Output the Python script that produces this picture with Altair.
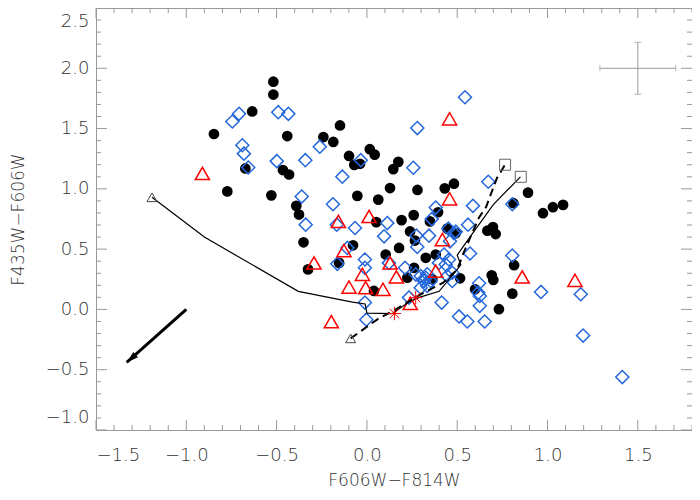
import altair as alt
import pandas as pd
import numpy as np

# ---------------- data ----------------
blk_x = [-0.518, -0.518, -0.635, -0.847, -0.441, -0.149, -0.241, -0.186, -0.099, -0.070,
         -0.038, 0.016, 0.043, 0.174, 0.146, -0.673, -0.465, -0.431, -0.773, -0.529,
         -0.053, 0.128, 0.063, 0.280, -0.391, -0.376, 0.259, 0.192, 0.052, -0.351,
         -0.326, -0.154, -0.077, 0.431, 0.482, 0.892, 0.975, 1.030, 1.086, 0.811,
         0.394, 0.349, 0.239, 0.445, 0.492, 0.667, 0.698, 0.713, 0.266, 0.178,
         0.815, 0.691, 0.700, 0.516, 0.599, 0.805, 0.731, 0.326, 0.381, 0.104,
         0.224, 0.261, 0.362, 0.039]
blk_y = [1.889, 1.782, 1.642, 1.455, 1.438, 1.526, 1.430, 1.389, 1.273, 1.199,
         1.208, 1.329, 1.284, 1.224, 1.164, 1.169, 1.156, 1.119, 0.979, 0.946,
         0.942, 1.007, 0.911, 0.991, 0.859, 0.787, 0.782, 0.741, 0.724, 0.557,
         0.332, 0.386, 0.532, 1.004, 1.043, 0.969, 0.798, 0.848, 0.867, 0.881,
         0.806, 0.730, 0.647, 0.670, 0.633, 0.653, 0.683, 0.625, 0.571, 0.510,
         0.367, 0.283, 0.244, 0.258, 0.167, 0.131, 0.002, 0.428, 0.455, 0.455,
         0.263, 0.345, 0.250, 0.153]

dia_x = [-0.745, -0.708, -0.491, -0.435, -0.690, -0.681, -0.657, -0.499, -0.341, -0.261,
         -0.034, -0.136, 0.257, 0.279, -0.361, -0.188, -0.339, -0.167, -0.066, 0.113,
         0.543, 0.672, 0.381, 0.587, 0.805, 0.359, 0.560, 0.344, 0.274, 0.279,
         0.451, 0.482, 0.460, 0.571, 0.805, 0.621, 0.625, 0.625, 0.414, 0.510,
         0.556, 0.652, 0.964, 1.184, 1.197, 1.414, 0.211, 0.334, 0.316, 0.399,
         0.454, 0.473, 0.445, 0.095, 0.492, -0.108, -0.011, -0.011, -0.164, 0.122,
         0.270, 0.298, 0.326, 0.353, 0.427, 0.436, 0.473, 0.617, -0.011, -0.003,
         0.233, 0.298, 0.334]
dia_y = [1.559, 1.622, 1.636, 1.622, 1.362, 1.292, 1.177, 1.230, 1.238, 1.350,
         1.238, 1.101, 1.175, 1.504, 0.936, 0.872, 0.703, 0.703, 0.675, 0.716,
         1.760, 1.059, 0.845, 0.859, 0.872, 0.749, 0.703, 0.612, 0.612, 0.518,
         0.670, 0.633, 0.565, 0.464, 0.447, 0.217, 0.112, 0.030, 0.057, -0.058,
         -0.100, -0.100, 0.145, 0.126, -0.217, -0.561, 0.345, 0.291, 0.235, 0.386,
         0.414, 0.236, 0.277, 0.606, 0.645, 0.510, 0.414, 0.345, 0.378, 0.386,
         0.291, 0.277, 0.263, 0.236, 0.455, 0.373, 0.304, 0.139, 0.057, -0.085,
         0.098, 0.180, 0.194]

tri_x = [-0.911, 0.458, 0.458, -0.158, 0.012, 0.860, 1.152, 0.418, 0.381, -0.293,
         -0.127, -0.025, 0.163, -0.099, -0.007, 0.089, -0.197, 0.128, 0.240]
tri_y = [1.128, 1.581, 0.917, 0.730, 0.771, 0.269, 0.241, 0.579, 0.318, 0.386,
         0.488, 0.291, 0.269, 0.186, 0.180, 0.167, -0.102, 0.386, 0.050]

ast_x = [0.152, 0.270]
ast_y = [-0.034, 0.098]

solid_x = [-1.19, -0.90, -0.38, -0.08, -0.01, 0.00, 0.14, 0.23, 0.29, 0.40, 0.52, 0.50, 0.58, 0.70, 0.85]
solid_y = [0.93, 0.60, 0.15, 0.06, 0.045, -0.03, -0.035, 0.06, 0.10, 0.15, 0.37, 0.45, 0.62, 0.87, 1.10]

dashed_x = [-0.09, 0.06, 0.16, 0.28, 0.42, 0.50, 0.53, 0.57, 0.62, 0.66, 0.72, 0.765]
dashed_y = [-0.24, -0.08, 0.00, 0.11, 0.22, 0.33, 0.45, 0.59, 0.76, 0.85, 1.09, 1.20]

start_x = [-1.19, -0.09]
start_y = [0.93, -0.24]
end_x = [0.765, 0.852]
end_y = [1.20, 1.10]

arrow_x = [-1.0, -1.33]
arrow_y = [0.0, -0.44]

err_x, err_y, err_dx, err_dy = [1.5], [2.0], [0.21], [0.215]

x_major = [-1.5, -1.0, -0.5, 0.0, 0.5, 1.0, 1.5]
y_major = [-1.0, -0.5, 0.0, 0.5, 1.0, 1.5, 2.0, 2.5]
x_minor = [float(v) for v in np.round(np.arange(-1.5, 1.81, 0.1), 1) if v not in x_major]
y_minor = [float(v) for v in np.round(np.arange(-1.0, 2.51, 0.1), 1) if v not in y_major]

# ---------------- style ----------------
W, H = 596, 422
GRAY = "#999999"
BLUE = "#2468dc"
RED = "#ff0000"
FONT = "DejaVu Sans"
TXT = "#333333"

xs = alt.Scale(domain=[-1.5, 1.8], nice=False, zero=False)
ys = alt.Scale(domain=[-1.0, 2.5], nice=False, zero=False)

x_axis = alt.Axis(
    values=x_major, format=".1f", domain=False, ticks=False, grid=False,
    labelFont=FONT, labelFontSize=18, labelFontWeight=200, labelColor=TXT,
    labelPadding=16, title="F606W−F814W", titleFont=FONT, titleFontSize=17,
    titleFontWeight=200, titleColor=TXT, titlePadding=8)
y_axis = alt.Axis(
    values=y_major, format=".1f", domain=False, ticks=False, grid=False,
    labelFont=FONT, labelFontSize=18, labelFontWeight=200, labelColor=TXT,
    labelPadding=7, labelFlush=True, labelFlushOffset=-4,
    title="F435W−F606W", titleFont=FONT,
    titleFontSize=17, titleFontWeight=200, titleColor=TXT, titleX=-69)


def XQ(f="x"):
    return alt.X(f"{f}:Q", scale=xs, axis=x_axis)


def YQ(f="y"):
    return alt.Y(f"{f}:Q", scale=ys, axis=y_axis)


def tick_layer(vals, axis, side, length):
    df = pd.DataFrame({"v": vals})
    if axis == "x":
        enc = dict(x=XQ("v"))
        if side == "bottom":
            enc.update(y=alt.value(H), y2=alt.value(H - length))
        else:
            enc.update(y=alt.value(0), y2=alt.value(length))
    else:
        enc = dict(y=YQ("v"))
        if side == "left":
            enc.update(x=alt.value(0), x2=alt.value(length))
        else:
            enc.update(x=alt.value(W), x2=alt.value(W - length))
    return alt.Chart(df).mark_rule(color=GRAY, strokeWidth=1).encode(**enc)


ticks = [
    tick_layer(x_major, "x", "bottom", 10), tick_layer(x_minor, "x", "bottom", 5),
    tick_layer(x_major, "x", "top", 10), tick_layer(x_minor, "x", "top", 5),
    tick_layer(y_major, "y", "left", 11), tick_layer(y_minor, "y", "left", 5),
    tick_layer(y_major, "y", "right", 11), tick_layer(y_minor, "y", "right", 5),
]

blk = alt.Chart(pd.DataFrame({"x": blk_x, "y": blk_y})).mark_point(
    shape="circle", filled=True, color="black", size=115, opacity=1).encode(x=XQ(), y=YQ())

dia = alt.Chart(pd.DataFrame({"x": dia_x, "y": dia_y})).mark_point(
    shape="diamond", filled=False, color=BLUE, size=170, strokeWidth=1.5, opacity=1).encode(x=XQ(), y=YQ())

tri = alt.Chart(pd.DataFrame({"x": tri_x, "y": tri_y})).mark_point(
    shape="triangle-up", filled=False, color=RED, size=200, strokeWidth=1.5, opacity=1).encode(x=XQ(), y=YQ())

solid = alt.Chart(pd.DataFrame({"x": solid_x, "y": solid_y, "i": range(len(solid_x))})).mark_line(
    color="black", strokeWidth=1.2).encode(x=XQ(), y=YQ(), order="i:Q")

dashed = alt.Chart(pd.DataFrame({"x": dashed_x, "y": dashed_y, "i": range(len(dashed_x))})).mark_line(
    color="black", strokeWidth=2, strokeDash=[8, 5]).encode(x=XQ(), y=YQ(), order="i:Q")

ast = alt.Chart(pd.DataFrame({"x": ast_x, "y": ast_y})).mark_point(
    shape="M-1,0L1,0M0,-1L0,1M-0.7,-0.7L0.7,0.7M-0.7,0.7L0.7,-0.7",
    filled=False, color=RED, size=180, strokeWidth=1, opacity=1).encode(x=XQ(), y=YQ())

starts = alt.Chart(pd.DataFrame({"x": start_x, "y": start_y})).mark_point(
    shape="triangle-up", filled=False, color="#444", size=100, strokeWidth=1, opacity=1).encode(x=XQ(), y=YQ())

ends = alt.Chart(pd.DataFrame({"x": end_x, "y": end_y})).mark_point(
    shape="square", filled=False, color="#666", size=121, strokeWidth=1, opacity=1).encode(x=XQ(), y=YQ())

arrow_line = alt.Chart(pd.DataFrame({"x": arrow_x, "y": arrow_y, "i": [0, 1]})).mark_line(
    color="black", strokeWidth=3).encode(x=XQ(), y=YQ(), order="i:Q")

arrow_head = alt.Chart(pd.DataFrame({"x": arrow_x[1:], "y": arrow_y[1:]})).mark_point(
    shape="M0,0L0.7,2.4L-0.7,2.4Z", filled=True, color="black", size=100, angle=228.5,
    opacity=1).encode(x=XQ(), y=YQ())

err_df = pd.DataFrame({"x": err_x, "y": err_y, "dx": err_dx, "dy": err_dy})
err_base = alt.Chart(err_df).transform_calculate(
    x1="datum.x - datum.dx", x2="datum.x + datum.dx",
    y1="datum.y - datum.dy", y2="datum.y + datum.dy")
err_h = err_base.mark_rule(color=GRAY, strokeWidth=1).encode(x=XQ("x1"), x2="x2:Q", y=YQ())
err_v = err_base.mark_rule(color=GRAY, strokeWidth=1).encode(x=XQ(), y=YQ("y1"), y2="y2:Q")
cap_l = err_base.mark_tick(color=GRAY, orient="vertical", size=6, thickness=1).encode(x=XQ("x1"), y=YQ())
cap_r = err_base.mark_tick(color=GRAY, orient="vertical", size=6, thickness=1).encode(x=XQ("x2"), y=YQ())
cap_b = err_base.mark_tick(color=GRAY, orient="horizontal", size=7, thickness=1).encode(x=XQ(), y=YQ("y1"))
cap_t = err_base.mark_tick(color=GRAY, orient="horizontal", size=7, thickness=1).encode(x=XQ(), y=YQ("y2"))

chart = alt.layer(
    blk, *ticks, dia, tri, solid, dashed, ast, starts, ends,
    arrow_line, arrow_head, err_h, err_v, cap_l, cap_r, cap_b, cap_t,
).properties(
    width=W, height=H,
    autosize=alt.AutoSizeParams(type="none"),
    padding={"left": 88, "top": 0, "right": 0, "bottom": 62},
    background="white",
).configure_view(stroke=GRAY, strokeWidth=1)

chart.save("out.html", embed_options={"renderer": "svg", "actions": False})
